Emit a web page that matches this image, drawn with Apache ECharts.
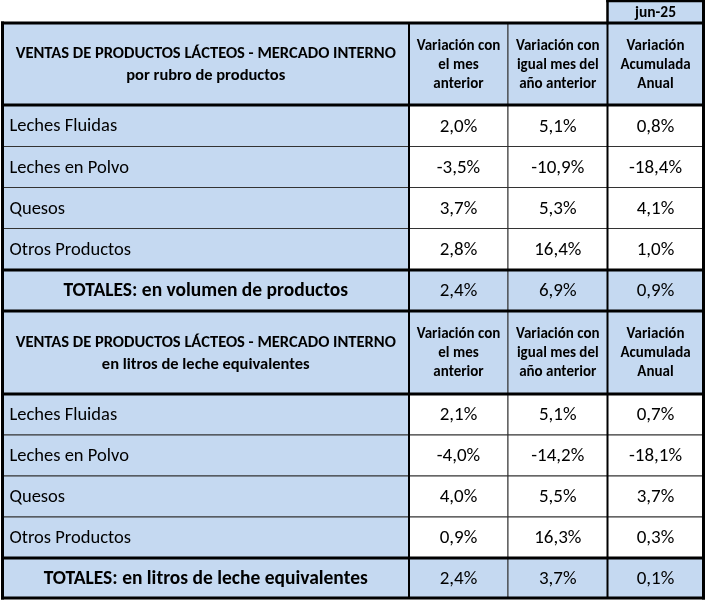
<!DOCTYPE html>
<html style="height: 100%">
<head>
  <meta charset="utf-8">
  <title>Ventas de productos lácteos - mercado interno</title>
  <script src="https://cdn.jsdelivr.net/npm/echarts@6.0.0/dist/echarts.min.js"></script>
</head>
<body style="height: 100%; margin: 0; background: #fff">
  <div id="main" style="width: 707px; height: 600px"></div>
  <script type="text/javascript">
    var periodLabel = 'jun-25';
    var columnHeaders = ['Variación con\nel mes\nanterior', 'Variación con\nigual mes del\naño anterior', 'Variación\nAcumulada\nAnual'];
    var sectionTitles = [
      'VENTAS DE PRODUCTOS LÁCTEOS - MERCADO INTERNO\npor rubro de productos',
      'VENTAS DE PRODUCTOS LÁCTEOS - MERCADO INTERNO\nen litros de leche equivalentes'
    ];
    var productos = ['Leches Fluidas', 'Leches en Polvo', 'Quesos', 'Otros Productos'];
    var totalLabels = ['TOTALES: en volumen de productos', 'TOTALES: en litros de leche equivalentes'];

    // section 1: volumen de productos
    var mesAnterior1 = [2.0, -3.5, 3.7, 2.8];
    var anioAnterior1 = [5.1, -10.9, 5.3, 16.4];
    var acumulada1 = [0.8, -18.4, 4.1, 1.0];
    var totales1 = [2.4, 6.9, 0.9];

    // section 2: litros de leche equivalentes
    var mesAnterior2 = [2.1, -4.0, 4.0, 0.9];
    var anioAnterior2 = [5.1, -14.2, 5.5, 16.3];
    var acumulada2 = [0.7, -18.1, 3.7, 0.3];
    var totales2 = [2.4, 3.7, 0.1];

    // layout: cell edges on the (hidden) axes
    var colEdges = [2.5, 409, 508, 607.5, 703.5];
    var rowEdges = [1, 23, 105, 146.5, 187.5, 228.5, 270, 311, 394, 435, 476, 517, 558, 598];
    var blue = '#C5D9F1';
    var font = 'Carlito, Lato, "Open Sans", sans-serif';

    function pct(v) {
      return v.toFixed(1).replace('.', ',') + '%';
    }

    var cells = [];
    function addCell(c0, c1, r0, r1, text, opts) {
      cells.push(Object.assign({ c0: c0, c1: c1, r0: r0, r1: r1, text: text,
        fill: '#fff', size: 19, weight: 'normal', align: 'center', lineHeight: 20 }, opts));
    }

    addCell(3, 4, 0, 1, periodLabel, { fill: blue, size: 15.5, weight: 'bold' });

    var sections = [
      { title: sectionTitles[0], rows: [mesAnterior1, anioAnterior1, acumulada1], tot: totales1, label: totalLabels[0] },
      { title: sectionTitles[1], rows: [mesAnterior2, anioAnterior2, acumulada2], tot: totales2, label: totalLabels[1] }
    ];
    sections.forEach(function (s, k) {
      var r = 1 + k * 6;
      addCell(0, 1, r, r + 1, s.title, { fill: blue, size: 16.5, weight: 'bold', lineHeight: 22 });
      columnHeaders.forEach(function (h, j) {
        addCell(j + 1, j + 2, r, r + 1, h, { fill: blue, size: 15, weight: 'bold', lineHeight: 19 });
      });
      productos.forEach(function (p, i) {
        addCell(0, 1, r + 1 + i, r + 2 + i, p, { fill: blue, align: 'left', size: 18.5 });
        s.rows.forEach(function (col, j) {
          addCell(j + 1, j + 2, r + 1 + i, r + 2 + i, pct(col[i]));
        });
      });
      addCell(0, 1, r + 5, r + 6, s.label, { fill: blue, weight: 'bold', size: 19.5 });
      s.tot.forEach(function (v, j) {
        addCell(j + 1, j + 2, r + 5, r + 6, pct(v), { fill: blue });
      });
    });

    // thick rules: [x0, y0, x1, y1, width]
    var L = colEdges[0], R = colEdges[4];
    var rules = [];
    [1, 2, 6, 7, 8, 12, 13].forEach(function (i) {
      rules.push([L, rowEdges[i], R, rowEdges[i], 3]);
    });
    rules.push([colEdges[3], rowEdges[0], R, rowEdges[0], 2.5]);
    rules.push([colEdges[3], rowEdges[0], colEdges[3], rowEdges[1], 2.5]);
    rules.push([R, rowEdges[0], R, rowEdges[13], 3]);
    rules.push([L, rowEdges[1], L, rowEdges[13], 3]);
    rules.push([colEdges[1], rowEdges[1], colEdges[1], rowEdges[13], 2]);
    rules.push([colEdges[3], rowEdges[1], colEdges[3], rowEdges[13], 2]);

    var option = {
      animation: false,
      grid: { left: 0, right: 0, top: 0, bottom: 0 },
      xAxis: { type: 'value', min: 0, max: 707, show: false },
      yAxis: { type: 'value', min: 0, max: 600, inverse: true, show: false },
      series: [
        {
          type: 'custom',
          data: cells.map(function (c) {
            return [colEdges[c.c0], colEdges[c.c1], rowEdges[c.r0], rowEdges[c.r1]];
          }),
          renderItem: function (params, api) {
            var c = cells[params.dataIndex];
            var p0 = api.coord([api.value(0), api.value(2)]);
            var p1 = api.coord([api.value(1), api.value(3)]);
            var x = Math.min(p0[0], p1[0]), y = Math.min(p0[1], p1[1]);
            var w = Math.abs(p1[0] - p0[0]), h = Math.abs(p1[1] - p0[1]);
            return {
              type: 'group',
              children: [
                { type: 'rect', shape: { x: x, y: y, width: w, height: h },
                  style: { fill: c.fill, stroke: '#333', lineWidth: 1 } },
                { type: 'text', x: c.align === 'left' ? x + 7 : x + w / 2, y: y + h / 2 + 1,
                  style: { text: c.text, align: c.align, verticalAlign: 'middle', fill: '#000',
                    fontFamily: font, fontSize: c.size, fontWeight: c.weight, lineHeight: c.lineHeight } }
              ]
            };
          }
        },
        {
          type: 'custom',
          z: 3,
          data: rules,
          renderItem: function (params, api) {
            var a = api.coord([api.value(0), api.value(1)]);
            var b = api.coord([api.value(2), api.value(3)]);
            return { type: 'line', shape: { x1: a[0], y1: a[1], x2: b[0], y2: b[1] },
              style: { stroke: '#000', lineWidth: api.value(4), lineCap: 'square' } };
          }
        }
      ]
    };

    var chart = echarts.init(document.getElementById('main'));
    chart.setOption(option);
  </script>
</body>
</html>
